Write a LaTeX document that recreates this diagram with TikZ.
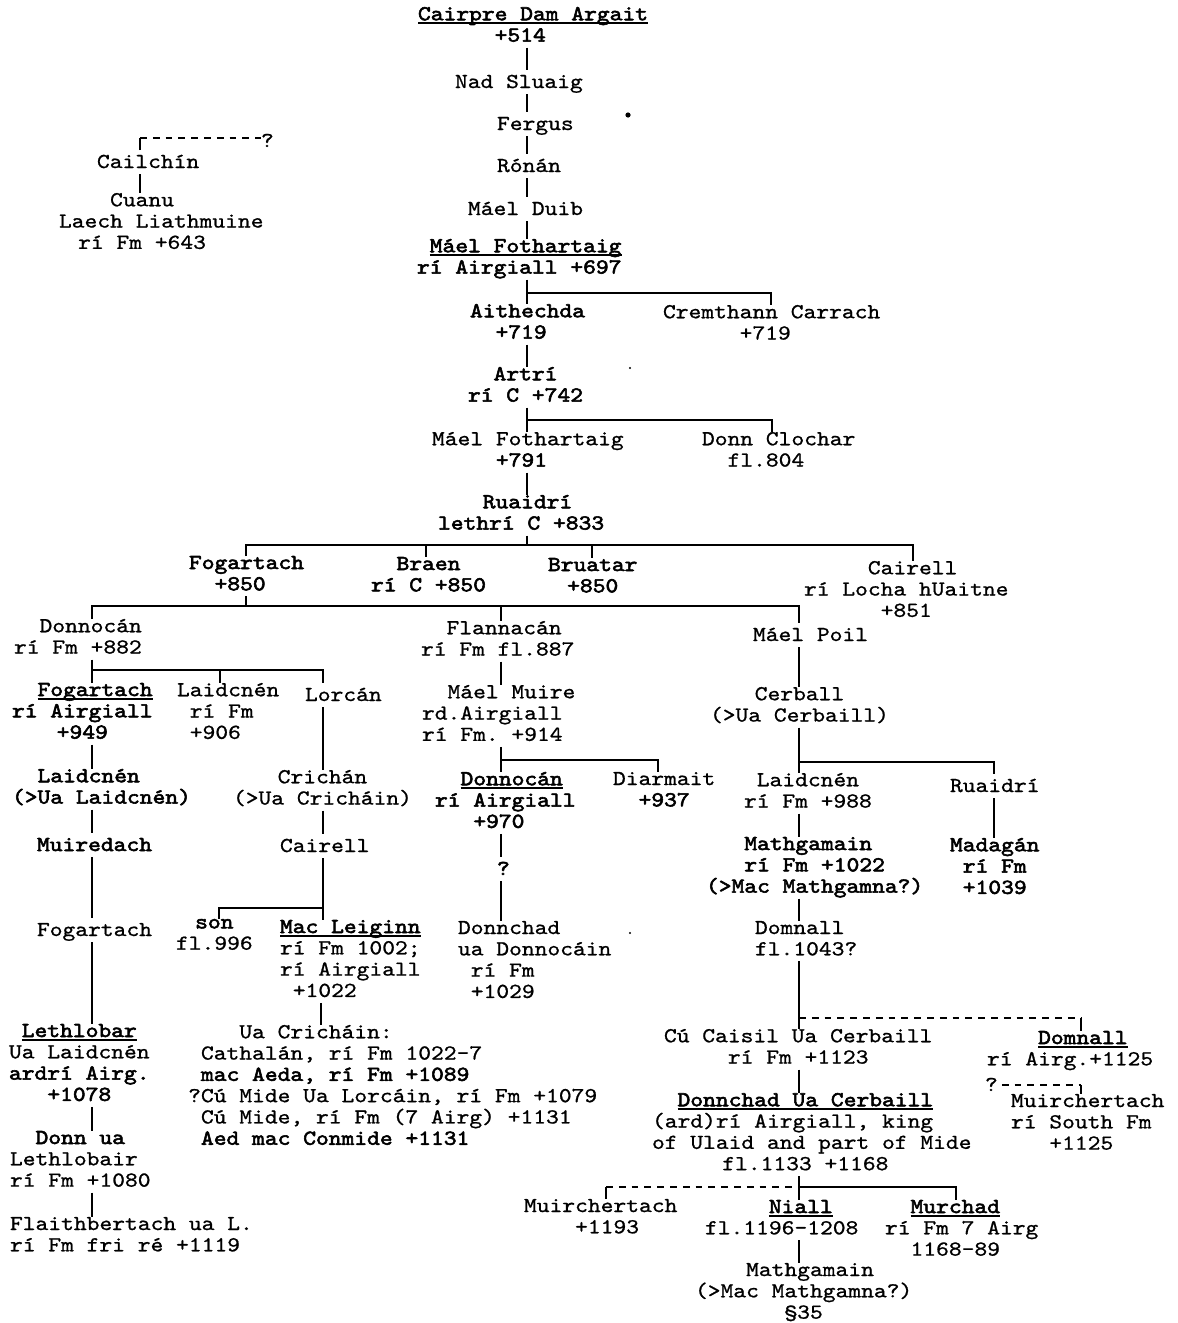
\documentclass[tikz,border=0pt]{standalone}
\usepackage{fontspec}
\setmonofont{Latin Modern Mono}[FakeStretch=1.143, FakeBold=0.9,
  BoldFont={Latin Modern Mono}, BoldFeatures={FakeBold=2.6}]
\newdimen\cw \cw=6.39pt
\newcommand\ind[1]{\hspace*{#1\cw}}
\newcommand\undr[1]{\setbox0=\hbox{#1}\rlap{\rule[-1.8pt]{\wd0}{0.8pt}}\box0}
\newcommand\twfont{\ttfamily\fontsize{10.65pt}{10.65pt}\selectfont\lineskiplimit=-30pt\relax\lineskip=0pt\relax}
\newcommand\sttop{\vrule width 0pt height 9pt depth 0pt\relax}
\newcommand\stbot{\vrule width 0pt height 0pt depth 3pt\relax}
\tikzset{
  tw/.style={anchor=north west, inner sep=0pt, outer sep=0pt, align=left, yshift=4.5pt,
    font=\twfont, execute at begin node=\sttop, execute at end node=\stbot},
  ln/.style={line width=0.7pt},
  dsh/.style={line width=0.7pt, dash pattern=on 3.4pt off 3pt}
}
\begin{document}
\begin{tikzpicture}[x=0.5pt,y=-0.5pt]
\useasboundingbox (0,0) rectangle (1178,1323);
\fill[white] (0,0) rectangle (1178,1323);

% ---- people ----
\node[tw] (cairpre) at (418,16) {\textbf{\undr{Cairpre Dam Argait}}\\\ind{6}\textbf{+514}};
\node[tw] (nad) at (455,79) {Nad Sluaig};
\node[tw] (fergus) at (497,121) {Fergus};
\node[tw] (ronan) at (497,163) {Rónán};
\node[tw] (maelduib) at (468,206) {Máel Duib};
\node[tw] (mf1) at (417,248) {\ind{1}\textbf{\undr{Máel Fothartaig}}\\\textbf{rí Airgiall +697}};
\node[tw] (aith) at (470,313) {\textbf{Aithechda}\\\ind{2}\textbf{+719}};
\node[tw] (crem) at (663,314) {Cremthann Carrach\\\ind{6}+719};
\node[tw] (artri) at (468,376) {\ind{2}\textbf{Artrí}\\\textbf{rí C +742}};
\node[tw] (mf2) at (432,441) {Máel Fothartaig\\\ind{5}\textbf{+791}};
\node[tw] (donncl) at (702,441) {Donn Clochar\\\ind{2}fl.804};
\node[tw] (ruaidri) at (438,504) {\ind{3.5}\textbf{Ruaidrí}\\\textbf{lethrí C +833}};

\node[tw] (fog1) at (189,565) {\textbf{Fogartach}\\\ind{2}\textbf{+850}};
\node[tw] (braen) at (371,566) {\ind{2}\textbf{Braen}\\\textbf{rí C +850}};
\node[tw] (bruatar) at (548,567) {\textbf{Bruatar}\\\ind{1.5}\textbf{+850}};
\node[tw] (cairell1) at (804,570) {\ind{5}Cairell\\rí Locha hUaitne\\\ind{6}+851};

\node[tw] (donnocan1) at (14,628) {\ind{2}Donnocán\\rí Fm +882};
\node[tw] (flann) at (421,630) {\ind{2}Flannacán\\rí Fm fl.887};
\node[tw] (maelpoil) at (753,632) {Máel Poil};

\node[tw] (fog2) at (12,692) {\ind{2}\textbf{\undr{Fogartach}}\\\textbf{rí Airgiall}\\\ind{3.5}\textbf{+949}};
\node[tw] (laid1) at (177,692) {Laidcnén\\\ind{1}rí Fm\\\ind{1}+906};
\node[tw] (lorcan) at (305,692) {Lorcán};
\node[tw] (mmuire) at (422,694) {\ind{2}Máel Muire\\rd.Airgiall\\rí Fm. +914};
\node[tw] (cerball) at (710,696) {\ind{3.5}Cerball\\(>Ua Cerbaill)};

\node[tw] (laid2) at (12,778) {\ind{2}\textbf{Laidcnén}\\\textbf{(>Ua Laidcnén)}};
\node[tw] (crichan) at (233,779) {\ind{3.5}Crichán\\(>Ua Cricháin)};
\node[tw] (donnocan2) at (435,781) {\ind{2}\textbf{\undr{Donnocán}}\\\textbf{rí Airgiall}\\\ind{3}\textbf{+970}};
\node[tw] (diarmait) at (613,781) {Diarmait\\\ind{2}\textbf{+937}};
\node[tw] (laid3) at (744,782) {\ind{1}Laidcnén\\rí Fm +988};
\node[tw] (ruaidri2) at (950,783) {Ruaidrí};

\node[tw] (muiredach) at (37,842) {\textbf{Muiredach}};
\node[tw] (cairell2) at (280,843) {Cairell};
\node[tw] (mathg1) at (706,846) {\ind{3}\textbf{Mathgamain}\\\ind{3}\textbf{rí Fm +1022}\\\textbf{(>Mac Mathgamna?)}};
\node[tw] (madagan) at (950,847) {\textbf{Madagán}\\\ind{1}\textbf{rí Fm}\\\ind{1}\textbf{+1039}};
\node[tw] (q1) at (497,866) {\textbf{?}};

\node[tw] (fog3) at (37,927) {Fogartach};
\node[tw] (son) at (176,928) {\ind{1.5}\textbf{son}\\fl.996};
\node[tw] (macl) at (280,929) {\textbf{\undr{Mac Leiginn}}\\rí Fm 1002;\\rí Airgiall\\\ind{1}+1022};
\node[tw] (donnchad1) at (458,930) {Donnchad\\ua Donnocáin\\\ind{1}rí Fm\\\ind{1}+1029};
\node[tw] (domnall1) at (755,930) {Domnall\\fl.1043?};

\node[tw] (lethlobar) at (9,1033) {\ind{1}\textbf{\undr{Lethlobar}}\\Ua Laidcnén\\\textbf{ardrí Airg.}\\\ind{3}\textbf{+1078}};
\node[tw] (uacrich) at (201,1034) {\ind{3}Ua Cricháin:\\Cathalán, rí Fm 1022-7\\\textbf{mac Aeda, rí Fm +1089}\\\llap{?}Cú Mide Ua Lorcáin, rí Fm +1079\\Cú Mide, rí Fm (7 Airg) +1131\\\textbf{Aed mac Conmide +1131}};
\node[tw] (cucaisil) at (664,1038) {Cú Caisil Ua Cerbaill\\\ind{5}rí Fm +1123};
\node[tw] (domnall2) at (987,1040) {\ind{4}\textbf{\undr{Domnall}}\\rí Airg.+1125};
\node[tw] (q2) at (985,1082) {?};
\node[tw] (muirch1) at (1011,1103) {Muirchertach\\rí South Fm\\\ind{3}+1125};
\node[tw] (duc) at (652,1102) {\ind{2}\textbf{\undr{Donnchad Ua Cerbaill}}\\(ard)rí Airgiall, king\\of Ulaid and part of Mide\\\ind{5.5}fl.1133 +1168};
\node[tw] (donnua) at (10,1140) {\ind{2}\textbf{Donn ua}\\Lethlobair\\rí Fm +1080};
\node[tw] (flaith) at (10,1226) {Flaithbertach ua L.\\rí Fm fri ré +1119};
\node[tw] (muirch2) at (524,1208) {Muirchertach\\\ind{4}+1193};
\node[tw] (niall) at (705,1209) {\ind{5}\textbf{\undr{Niall}}\\fl.1196-1208};
\node[tw] (murchad) at (885,1209) {\ind{2}\textbf{\undr{Murchad}}\\rí Fm 7 Airg\\\ind{2}1168-89};
\node[tw] (mathg2) at (695,1272) {\ind{4}Mathgamain\\(>Mac Mathgamna?)\\\ind{7}§35};

\node[tw] (cailchin) at (97,159) {Cailchín};
\node[tw] (cuanu) at (59,202) {\ind{4}Cuanu\\Laech Liathmuine\\\ind{1.5}rí Fm +643};
\node[tw] (q3) at (261,138) {?};

% ---- line columns and bars ----
\coordinate (cA) at (527,0);
\coordinate (cCr) at (771,0);
\coordinate (cDC) at (772,0);
\coordinate (cFog) at (246,0);
\coordinate (cBr) at (426,0);
\coordinate (cBu) at (592,0);
\coordinate (cCa) at (913,0);
\coordinate (cL) at (92,0);
\coordinate (cFl) at (501,0);
\coordinate (cMP) at (799,0);
\coordinate (cLa) at (220,0);
\coordinate (cLo) at (323,0);
\coordinate (cSon) at (219,0);
\coordinate (cML) at (321,0);
\coordinate (cDi) at (658,0);
\coordinate (cRu) at (994,0);
\coordinate (cDo) at (1081,0);
\coordinate (cMu) at (606,0);
\coordinate (cMur) at (956,0);
\coordinate (cCai) at (140,0);

\coordinate (b1) at (0,293);
\coordinate (b2) at (0,420);
\coordinate (b3) at (0,545);
\coordinate (b4) at (0,606);
\coordinate (b5) at (0,670);
\coordinate (b6) at (0,908);
\coordinate (b7) at (0,760);
\coordinate (b8) at (0,762);
\coordinate (b9) at (0,1018);
\coordinate (b10) at (0,1187);
\coordinate (b12) at (0,138);

% ---- main line of descent ----
\draw[ln] (cairpre.south -| cA) -- (nad.north -| cA);
\draw[ln] (nad.south -| cA) -- (fergus.north -| cA);
\draw[ln] (fergus.south -| cA) -- (ronan.north -| cA);
\draw[ln] (ronan.south -| cA) -- (maelduib.north -| cA);
\draw[ln] (maelduib.south -| cA) -- (mf1.north -| cA);
\draw[ln] (mf1.south -| cA) -- (aith.north -| cA);
\draw[ln] (cA |- b1) -- (cCr |- b1) -- (crem.north -| cCr);
\draw[ln] (aith.south -| cA) -- (artri.north -| cA);
\draw[ln] (artri.south -| cA) -- (mf2.north -| cA);
\draw[ln] (cA |- b2) -- (cDC |- b2) -- (donncl.north -| cDC);
\draw[ln] (mf2.south -| cA) -- (ruaidri.north -| cA);

% ---- sons of Ruaidrí ----
\draw[ln] (ruaidri.south -| cA) -- (cA |- b3);
\draw[ln] (fog1.north -| cFog) -- (cFog |- b3) -- (cCa |- b3) -- (cairell1.north -| cCa);
\draw[ln] (cBr |- b3) -- (braen.north -| cBr);
\draw[ln] (cBu |- b3) -- (bruatar.north -| cBu);

% ---- sons of Fogartach ----
\draw[ln] (fog1.south -| cFog) -- (cFog |- b4);
\draw[ln] (donnocan1.north -| cL) -- (cL |- b4) -- (cMP |- b4) -- (maelpoil.north -| cMP);
\draw[ln] (cFl |- b4) -- (flann.north -| cFl);

% ---- Donnocán's line ----
\draw[ln] (donnocan1.south -| cL) -- (cL |- b5);
\draw[ln] (fog2.north -| cL) -- (cL |- b5) -- (cLo |- b5) -- (lorcan.north -| cLo);
\draw[ln] (cLa |- b5) -- (laid1.north -| cLa);
\draw[ln] (fog2.south -| cL) -- (laid2.north -| cL);
\draw[ln] (laid2.south -| cL) -- (muiredach.north -| cL);
\draw[ln] (muiredach.south -| cL) -- (fog3.north -| cL);
\draw[ln] (fog3.south -| cL) -- (lethlobar.north -| cL);
\draw[ln] (lethlobar.south -| cL) -- (donnua.north -| cL);
\draw[ln] (donnua.south -| cL) -- (flaith.north -| cL);

\draw[ln] (lorcan.south -| cLo) -- (crichan.north -| cLo);
\draw[ln] (crichan.south -| cLo) -- (cairell2.north -| cLo);
\draw[ln] (cairell2.south -| cLo) -- (macl.north -| cLo);
\draw[ln] (cLo |- b6) -- (cSon |- b6) -- (son.north -| cSon);
\draw[ln] (macl.south -| cML) -- (uacrich.north -| cML);

% ---- Flannacán's line ----
\draw[ln] (flann.south -| cFl) -- (mmuire.north -| cFl);
\draw[ln] (mmuire.south -| cFl) -- (donnocan2.north -| cFl);
\draw[ln] (cFl |- b7) -- (cDi |- b7) -- (diarmait.north -| cDi);
\draw[ln] (donnocan2.south -| cFl) -- (q1.north -| cFl);
\draw[ln] (q1.south -| cFl) -- (donnchad1.north -| cFl);

% ---- Máel Poil's line ----
\draw[ln] (maelpoil.south -| cMP) -- (cerball.north -| cMP);
\draw[ln] (cerball.south -| cMP) -- (laid3.north -| cMP);
\draw[ln] (cMP |- b8) -- (cRu |- b8) -- (ruaidri2.north -| cRu);
\draw[ln] (laid3.south -| cMP) -- (mathg1.north -| cMP);
\draw[ln] (ruaidri2.south -| cRu) -- (madagan.north -| cRu);
\draw[ln] (mathg1.south -| cMP) -- (domnall1.north -| cMP);
\draw[ln] (domnall1.south -| cMP) -- (cucaisil.north -| cMP);
\draw[dsh] (cMP |- b9) -- (cDo |- b9);
\draw[ln] (cDo |- b9) -- (domnall2.north -| cDo);
\draw[dsh] ([xshift=2pt]q2.east) -- (q2.east -| cDo);
\draw[ln] (q2.east -| cDo) -- (muirch1.north -| cDo);
\draw[ln] (cucaisil.south -| cMP) -- (duc.north -| cMP);
\draw[ln] (duc.south -| cMP) -- (niall.north -| cMP);
\draw[dsh] (cMu |- b10) -- (cMP |- b10);
\draw[ln] (cMu |- b10) -- (muirch2.north -| cMu);
\draw[ln] (cMP |- b10) -- (cMur |- b10) -- (murchad.north -| cMur);
\draw[ln] (niall.south -| cMP) -- (mathg2.north -| cMP);

% ---- Cailchín ----
\draw[ln] (cailchin.north -| cCai) -- (cCai |- b12);
\draw[dsh] (cCai |- b12) -- (q3.west |- b12);
\draw[ln] (cailchin.south -| cCai) -- (cuanu.north -| cCai);

% ---- specks on the sheet ----
\fill (628,115) circle[radius=1.3pt];
\fill (630,368) circle[radius=0.6pt];
\fill (630,933) circle[radius=0.6pt];
\end{tikzpicture}
\end{document}
